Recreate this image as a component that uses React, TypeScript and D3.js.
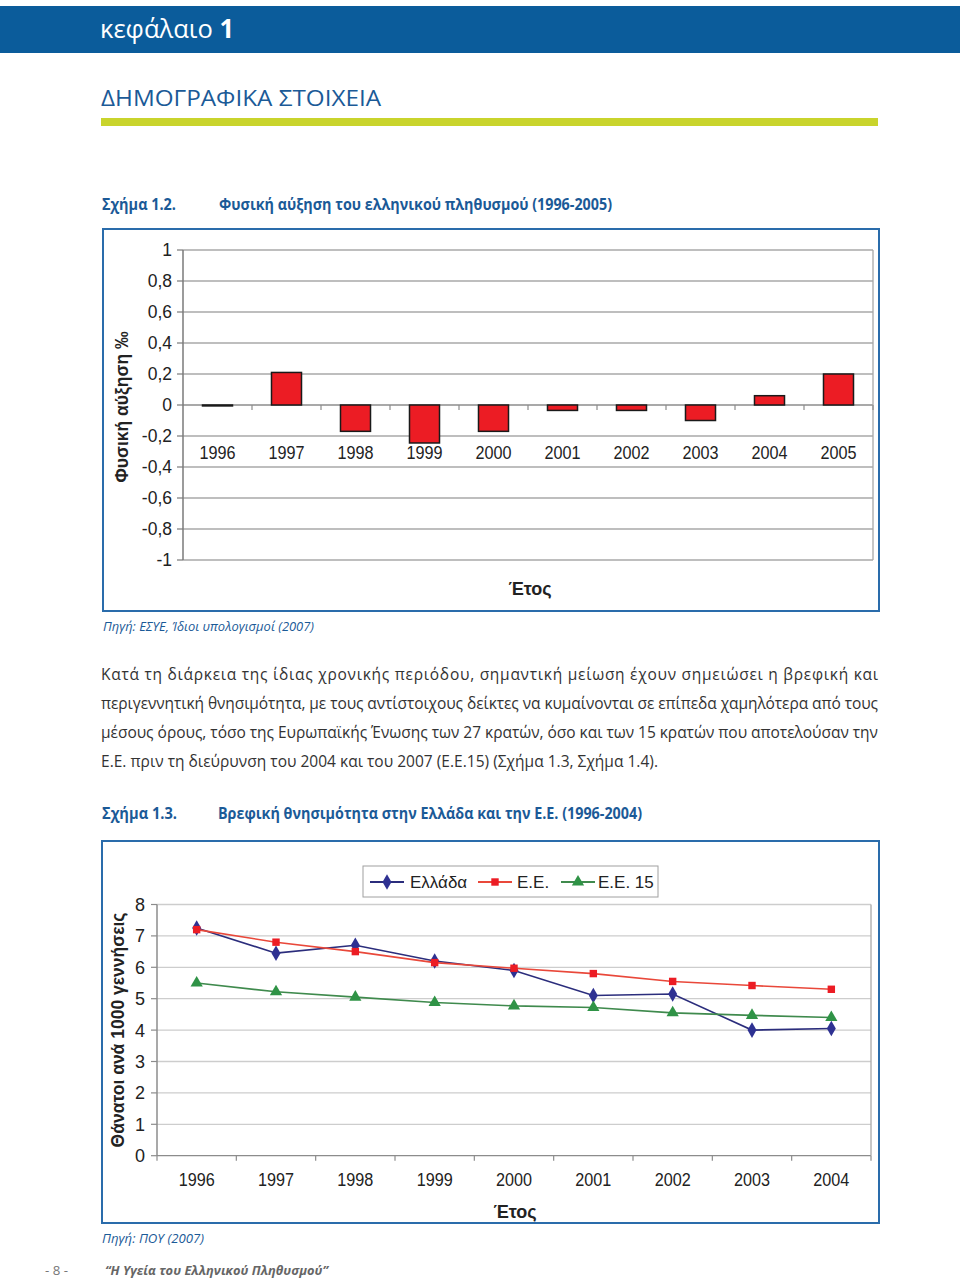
import React from "react";
import * as d3 from "d3";

// Chart 1.2 data
const years1 = ["1996", "1997", "1998", "1999", "2000", "2001", "2002", "2003", "2004", "2005"];
const growth = [-0.006, 0.21, -0.17, -0.245, -0.17, -0.035, -0.035, -0.1, 0.06, 0.2];
const yTicks1 = [1, 0.8, 0.6, 0.4, 0.2, 0, -0.2, -0.4, -0.6, -0.8, -1];

// Chart 1.3 data
const years2 = ["1996", "1997", "1998", "1999", "2000", "2001", "2002", "2003", "2004"];
const greece = [7.25, 6.45, 6.7, 6.2, 5.9, 5.1, 5.15, 4.0, 4.05];
const eu = [7.2, 6.8, 6.5, 6.15, 5.97, 5.8, 5.55, 5.42, 5.3];
const eu15 = [5.5, 5.22, 5.05, 4.88, 4.77, 4.72, 4.55, 4.47, 4.4];
const yTicks2 = [0, 1, 2, 3, 4, 5, 6, 7, 8];
const seriesNames = ["Ελλάδα", "Ε.Ε.", "Ε.Ε. 15"];

const paragraph = [
  "Κατά τη διάρκεια της ίδιας χρονικής περιόδου, σημαντική μείωση έχουν σημειώσει η βρεφική και",
  "περιγεννητική θνησιμότητα, με τους αντίστοιχους δείκτες να κυμαίνονται σε επίπεδα χαμηλότερα από τους",
  "μέσους όρους, τόσο της Ευρωπαϊκής Ένωσης των 27 κρατών, όσο και των 15 κρατών που αποτελούσαν την",
  "Ε.Ε. πριν τη διεύρυνση του 2004 και του 2007 (Ε.Ε.15) (Σχήμα 1.3, Σχήμα 1.4).",
];

const BLUE = "#0b5c9b";
const TXT_BLUE = "#1b5a97";
const ARIAL = "'Liberation Sans', Arial, sans-serif";
const SANS = "'Open Sans', 'Noto Sans', sans-serif";

function fmt(v: number) {
  return String(Math.round(v * 10) / 10).replace(".", ",");
}

export default function App() {
  // chart 1 scales
  const x1 = d3.scaleBand().domain(years1).range([183, 873]).paddingInner(0.565).paddingOuter(0.2825);
  const x1b = d3.scaleBand().domain(years1).range([183, 873]);
  const y1 = d3.scaleLinear().domain([-1, 1]).range([560, 250]);

  // chart 2 scales
  const x2 = d3.scaleBand().domain(years2).range([157, 871]);
  const y2 = d3.scaleLinear().domain([0, 8]).range([1155.7, 904.5]);
  const cx = (yr: string) => (x2(yr) as number) + x2.bandwidth() / 2;
  const line = d3
    .line<number>()
    .x((_, i) => cx(years2[i]))
    .y((d) => y2(d));

  const diamond = d3.symbol().type(d3.symbolDiamond).size(70)() as string;
  const square = d3.symbol().type(d3.symbolSquare).size(55)() as string;
  const triangle = d3.symbol().type(d3.symbolTriangle).size(65)() as string;

  const series = [
    { name: seriesNames[0], data: greece, line: "#2b2d7c", fill: "#2e3192", sym: diamond },
    { name: seriesNames[1], data: eu, line: "#e9483a", fill: "#ec1c24", sym: square },
    { name: seriesNames[2], data: eu15, line: "#3f8a4d", fill: "#2f9346", sym: triangle },
  ];

  return (
    <svg width={960} height={1279} style={{ display: "block", background: "#fff" }}>
      <style>{"body{margin:0}"}</style>
      {/* Header band */}
      <rect x={0} y={6} width={960} height={47} fill={BLUE} />
      <text x={100} y={38} fill="#fff" fontFamily={SANS} fontSize={26} textLength={134} lengthAdjust="spacingAndGlyphs">
        κεφάλαιο <tspan fontWeight="bold">1</tspan>
      </text>

      {/* Section title */}
      <text x={101} y={106} fill={TXT_BLUE} fontFamily={SANS} fontSize={22} textLength={280} lengthAdjust="spacingAndGlyphs">
        ΔΗΜΟΓΡΑΦΙΚΑ ΣΤΟΙΧΕΙΑ
      </text>
      <rect x={101} y={118} width={777} height={8} fill="#c9d42c" />

      {/* Figure 1.2 caption */}
      <text x={102} y={210} fill={TXT_BLUE} fontFamily={SANS} fontWeight="bold" fontSize={15.5} textLength={74} lengthAdjust="spacingAndGlyphs">
        Σχήμα 1.2.
      </text>
      <text x={219} y={210} fill={TXT_BLUE} fontFamily={SANS} fontWeight="bold" fontSize={15.5} textLength={393} lengthAdjust="spacingAndGlyphs">
        Φυσική αύξηση του ελληνικού πληθυσμού (1996-2005)
      </text>

      {/* Chart 1 frame */}
      <rect x={103} y={229} width={776} height={382} fill="#fff" stroke="#2a6cab" strokeWidth={2} />
      {yTicks1.map((t) => (
        <line key={"g1" + t} x1={183} x2={873} y1={y1(t)} y2={y1(t)} stroke={t === 0 ? "#8c8c8c" : "#a8a8a8"} strokeWidth={1.3} />
      ))}
      <line x1={873} x2={873} y1={250} y2={560} stroke="#a8a8a8" strokeWidth={1.3} />
      <line x1={183} x2={183} y1={250} y2={560} stroke="#7a7a7a" strokeWidth={1.5} />
      {yTicks1.map((t) => (
        <g key={"t1" + t}>
          <line x1={177} x2={183} y1={y1(t)} y2={y1(t)} stroke="#7a7a7a" strokeWidth={1.2} />
          <text x={172} y={y1(t) + 6} textAnchor="end" fontFamily={ARIAL} fontSize={17.5} fill="#222">
            {fmt(t)}
          </text>
        </g>
      ))}
      {years1.map((yr) => (
        <line key={"xt1" + yr} x1={(x1b(yr) as number) + x1b.bandwidth()} x2={(x1b(yr) as number) + x1b.bandwidth()} y1={y1(0)} y2={y1(0) + 5} stroke="#8c8c8c" strokeWidth={1.2} />
      ))}
      {years1.map((yr, i) => {
        const v = growth[i];
        const top = y1(Math.max(0, v));
        const h = Math.abs(y1(v) - y1(0));
        return (
          <rect key={"b" + yr} x={x1(yr)} y={top} width={x1.bandwidth()} height={Math.max(h, 0.8)} fill="#ec1c24" stroke="#1a1a1a" strokeWidth={1.5} />
        );
      })}
      {years1.map((yr) => (
        <text key={"xl1" + yr} x={(x1b(yr) as number) + x1b.bandwidth() / 2} y={459} textAnchor="middle" fontFamily={ARIAL} fontSize={17.5} fill="#222" textLength={36} lengthAdjust="spacingAndGlyphs">
          {yr}
        </text>
      ))}
      <text transform="translate(128,407) rotate(-90)" textAnchor="middle" fontFamily={ARIAL} fontWeight="bold" fontSize={17.5} fill="#222">
        Φυσική αύξηση ‰
      </text>
      <text x={530} y={595} textAnchor="middle" fontFamily={ARIAL} fontWeight="bold" fontSize={18} fill="#222">
        Έτος
      </text>

      <text x={103} y={631} fill={TXT_BLUE} fontFamily={SANS} fontStyle="italic" fontSize={13} textLength={211} lengthAdjust="spacingAndGlyphs">
        Πηγή: ΕΣΥΕ, Ίδιοι υπολογισμοί (2007)
      </text>

      {paragraph.map((ln, i) => (
        <text key={"p" + i} x={101} y={680 + i * 29} fill="#333" fontFamily={SANS} fontSize={15.5} textLength={i < 3 ? 777 : 557} lengthAdjust="spacing">
          {ln}
        </text>
      ))}

      {/* Figure 1.3 caption */}
      <text x={102} y={819} fill={TXT_BLUE} fontFamily={SANS} fontWeight="bold" fontSize={15.5} textLength={75} lengthAdjust="spacingAndGlyphs">
        Σχήμα 1.3.
      </text>
      <text x={218} y={819} fill={TXT_BLUE} fontFamily={SANS} fontWeight="bold" fontSize={15.5} textLength={424} lengthAdjust="spacingAndGlyphs">
        Βρεφική θνησιμότητα στην Ελλάδα και την Ε.Ε. (1996-2004)
      </text>

      {/* Chart 2 frame */}
      <rect x={102} y={841} width={777} height={382} fill="#fff" stroke="#2a6cab" strokeWidth={2} />
      {yTicks2.map((t) => (
        <line key={"g2" + t} x1={157} x2={871} y1={y2(t)} y2={y2(t)} stroke={t === 0 ? "#8c8c8c" : "#cdcdcd"} strokeWidth={1.3} />
      ))}
      <line x1={871} x2={871} y1={y2(8)} y2={y2(0)} stroke="#a8a8a8" strokeWidth={1.3} />
      <line x1={157} x2={157} y1={y2(8)} y2={y2(0)} stroke="#8c8c8c" strokeWidth={1.5} />
      {yTicks2.map((t) => (
        <g key={"t2" + t}>
          <line x1={151} x2={157} y1={y2(t)} y2={y2(t)} stroke="#8c8c8c" strokeWidth={1.2} />
          <text x={145} y={y2(t) + 6.5} textAnchor="end" fontFamily={ARIAL} fontSize={18} fill="#222">
            {t}
          </text>
        </g>
      ))}
      {[...years2.map((yr) => x2(yr) as number), 871].map((xv, i) => (
        <line key={"xt2" + i} x1={xv} x2={xv} y1={y2(0)} y2={y2(0) + 5} stroke="#8c8c8c" strokeWidth={1.2} />
      ))}
      {years2.map((yr) => (
        <text key={"xl2" + yr} x={cx(yr)} y={1186} textAnchor="middle" fontFamily={ARIAL} fontSize={17.5} fill="#222" textLength={36} lengthAdjust="spacingAndGlyphs">
          {yr}
        </text>
      ))}
      {series.map((s) => (
        <g key={s.name}>
          <path d={line(s.data) as string} fill="none" stroke={s.line} strokeWidth={1.6} />
          {s.data.map((v, i) => (
            <path key={i} d={s.sym} transform={`translate(${cx(years2[i])},${y2(v)})`} fill={s.fill} />
          ))}
        </g>
      ))}
      {/* Legend */}
      <rect x={363} y={866} width={295} height={31} fill="#fff" stroke="#a0a0a0" strokeWidth={1} />
      {series.map((s, i) => {
        const lx = [370, 478, 561][i];
        const tx = [410, 517, 598][i];
        return (
          <g key={"lg" + s.name}>
            <line x1={lx} x2={lx + 34} y1={882} y2={882} stroke={s.line} strokeWidth={2} />
            <path d={s.sym} transform={`translate(${lx + 17},882)`} fill={s.fill} />
            <text x={tx} y={888} fontFamily={ARIAL} fontSize={17} fill="#222">
              {s.name}
            </text>
          </g>
        );
      })}
      <text transform="translate(124,1030) rotate(-90)" textAnchor="middle" fontFamily={ARIAL} fontWeight="bold" fontSize={17.5} fill="#222">
        Θάνατοι ανά 1000 γεννήσεις
      </text>
      <text x={515} y={1218} textAnchor="middle" fontFamily={ARIAL} fontWeight="bold" fontSize={18} fill="#222">
        Έτος
      </text>

      <text x={102} y={1243} fill={TXT_BLUE} fontFamily={SANS} fontStyle="italic" fontSize={13} textLength={102} lengthAdjust="spacingAndGlyphs">
        Πηγή: ΠΟΥ (2007)
      </text>

      {/* Footer */}
      <text x={45} y={1275} fill="#777" fontFamily={SANS} fontSize={13} textLength={23} lengthAdjust="spacingAndGlyphs">
        - 8 -
      </text>
      <text x={105} y={1275} fill="#666" fontFamily={SANS} fontStyle="italic" fontWeight="bold" fontSize={13} textLength={223} lengthAdjust="spacingAndGlyphs">
        “Η Υγεία του Ελληνικού Πληθυσμού”
      </text>
    </svg>
  );
}
